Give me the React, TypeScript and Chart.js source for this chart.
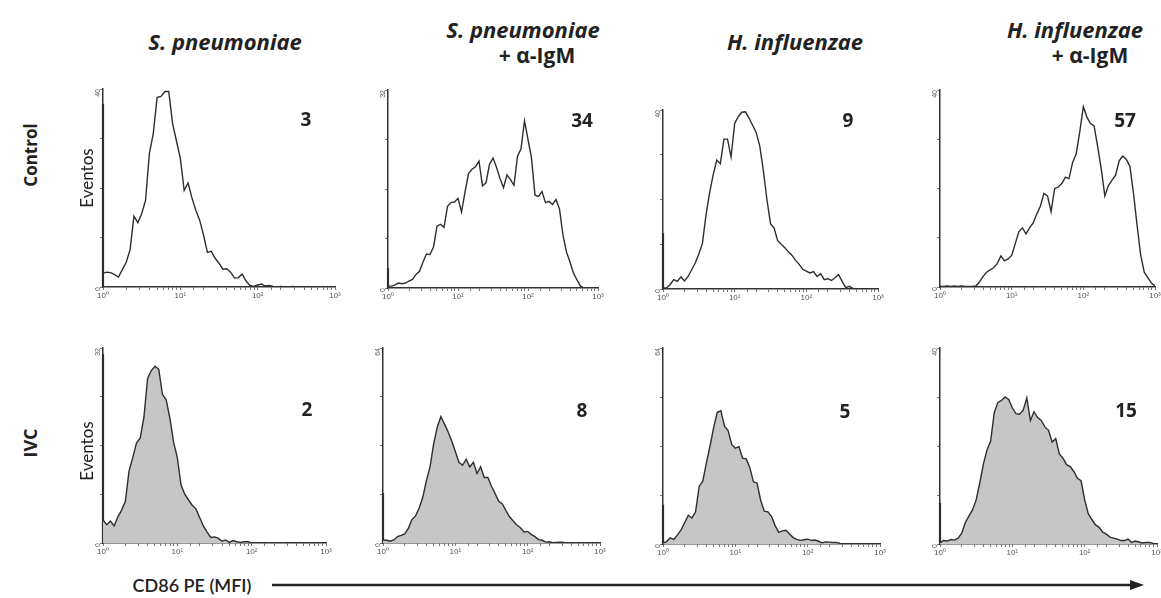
import React, { useEffect, useRef } from "react";
import { Chart, registerables } from "chart.js";

Chart.register(...registerables);

// Channel positions on the log axis (decade steps of 0.05 from 10^0 to 10^3)
const CHANNELS = Array.from({ length: 61 }, (_, i) => Math.pow(10, i * 0.05));

const COLUMN_TITLES = [
  ["S. pneumoniae"],
  ["S. pneumoniae", "+ α-IgM"],
  ["H. influenzae"],
  ["H. influenzae", "+ α-IgM"],
];
const ROW_LABELS = ["Control", "IVC"];
const Y_TITLE = "Eventos";
const X_TITLE = "CD86 PE (MFI)";
const X_TICK_LABELS: Record<number, string> = { 1: "10⁰", 10: "10¹", 100: "10²", 1000: "10³" };

const SP_CONTROL = [
  2.8, 3.0, 2.9, 2.5, 2.0, 3.5, 5.0, 7.5, 14.3, 13.0,
  14.8, 17.5, 27, 31, 38.3, 38.5, 39.5, 39.5, 33, 29.5,
  26, 19.5, 21, 18, 15.5, 13.5, 10.5, 7.0, 7.2, 5.8,
  4.8, 3.6, 3.7, 3.0, 1.8, 1.9, 2.6, 1.2, 0.3, 0.1,
  0.4, 0.6, 0.2, 0.3, 0.1, 0, 0.1, 0, 0, 0.1,
  0, 0, 0, 0, 0, 0, 0, 0, 0, 0, 0,
];
const SP_AIGM_CONTROL = [
  0.3, 0.3, 0.5, 0.8, 0.7, 0.8, 1.1, 1.4, 2.2, 2.7,
  4.2, 5.5, 5.4, 6.6, 10.0, 10.3, 9.8, 13.2, 13.8, 13.9,
  14.5, 12.3, 15.5, 18.5, 19.2, 19.6, 20.5, 16.5, 17.0, 20.0,
  21.0, 19.5, 17.7, 16.2, 18.3, 17.5, 16.6, 21.3, 22.5, 27.0,
  24.0, 21.0, 15.0, 14.8, 15.6, 13.8, 14.0, 13.5, 14.3, 12.8,
  8.5, 5.8, 4.2, 2.4, 1.3, 0.3, 0, 0, 0, 0, 0,
];
const HI_CONTROL = [
  0.3, 0.2, 1.0, 2.1, 1.7, 2.7, 1.8, 2.8, 4.3, 5.8,
  7.8, 10.2, 16.5, 21.5, 25.5, 28.8, 28.0, 33.5, 33.5, 29.5,
  37.0, 38.5, 39.5, 39.6, 38.2, 36.6, 35.0, 32.0, 26.5, 20.0,
  14.6, 13.6, 10.8, 10.0, 9.2, 8.3, 7.5, 6.4, 5.5, 4.4,
  4.0, 3.6, 3.9, 2.8, 3.4, 2.1, 2.3, 1.9, 2.5, 3.2,
  1.7, 0.3, 0.6, 0.1, 0, 0, 0, 0, 0, 0, 0,
];
const HI_AIGM_CONTROL = [
  0.1, 0.1, 0.2, 0.1, 0.2, 0.1, 0.2, 0.1, 0.1, 0.1,
  0.2, 1.0, 2.1, 3.0, 3.5, 3.9, 4.8, 6.3, 5.3, 5.7,
  6.4, 8.8, 11.2, 12.0, 10.8, 12.0, 13.0, 14.8, 16.4, 19.0,
  18.5, 15.3, 20.0, 20.3, 21.0, 22.3, 22.0, 25.3, 27.0, 31.5,
  36.6, 34.5, 33.2, 32.7, 28.5, 24.0, 18.5, 20.6, 21.7, 22.7,
  25.6, 26.6, 25.9, 24.5, 19.0, 12.5, 6.5, 3.0, 1.9, 0.8, 0.2,
];
const SP_IVC = [
  3.8, 3.0, 3.6, 2.8, 4.3, 5.4, 6.8, 11.8, 14.0, 16.4,
  17.2, 20.6, 27.0, 28.3, 29.0, 28.5, 24.4, 23.5, 20.5, 16.5,
  14.0, 9.5, 8.0, 7.1, 6.2, 5.6, 4.2, 2.8, 1.8, 0.9,
  1.0, 0.8, 0.3, 0.5, 0.1, 0.4, 0.2, 0.1, 0.2, 0.2,
  0, 0, 0, 0, 0, 0, 0, 0, 0, 0,
  0, 0, 0, 0, 0, 0, 0, 0, 0, 0, 0,
];
const SP_AIGM_IVC = [
  1.0, 0.9, 0.6, 1.0, 2.1, 2.5, 3.0, 4.8, 7.7, 8.9,
  11.5, 15.0, 20.5, 25.0, 32.5, 38.0, 41.5, 39.0, 36.5, 33.5,
  30.0, 26.5, 25.5, 27.5, 25.0, 26.5, 22.8, 25.0, 21.5, 21.5,
  18.6, 16.2, 13.7, 12.8, 10.6, 8.6, 7.2, 5.9, 5.0, 3.6,
  3.8, 2.8, 2.1, 1.1, 0.9, 0.3, 0.4, 0.1, 0.2, 0.3,
  0.2, 0, 0, 0, 0, 0, 0, 0, 0, 0, 0,
];
const HI_IVC = [
  0.3, 0.8, 2.0, 1.5, 3.0, 4.6, 7.0, 9.4, 8.5, 10.5,
  18.8, 20.5, 26.5, 32.0, 38.0, 43.0, 43.5, 38.5, 37.0, 32.5,
  31.3, 31.8, 28.0, 27.8, 25.0, 20.3, 19.9, 14.3, 10.7, 10.5,
  9.0, 6.0, 3.8, 4.3, 4.5, 3.3, 2.1, 1.5, 1.2, 1.4,
  1.6, 1.2, 1.3, 0.9, 0.4, 0.7, 0.6, 0.5, 0.5, 0.2,
  0, 0, 0, 0, 0, 0, 0, 0, 0, 0, 0,
];
const HI_AIGM_IVC = [
  0.3, 0.7, 0.6, 0.9, 0.8, 1.2, 2.2, 4.4, 5.7, 7.0,
  9.0, 12.5, 16.3, 19.2, 21.0, 26.8, 28.9, 29.3, 30.0, 29.5,
  27.8, 26.6, 26.5, 27.3, 29.8, 25.2, 27.0, 25.8, 25.2, 23.9,
  23.2, 20.8, 21.5, 18.4, 17.5, 16.2, 15.8, 14.8, 13.4, 12.9,
  9.0, 6.2, 5.0, 3.9, 3.4, 2.4, 2.0, 1.4, 1.2, 1.0,
  0.7, 0.7, 1.0, 0.3, 0.6, 0.4, 0.2, 0.3, 0.3, 0.1, 0,
];

const SERIES = [SP_CONTROL, SP_AIGM_CONTROL, HI_CONTROL, HI_AIGM_CONTROL, SP_IVC, SP_AIGM_IVC, HI_IVC, HI_AIGM_IVC];
const FIRST_CHANNEL_SPIKE = [37, 3.2, 12.5, 0, 31, 16.4, 12.8, 8.4];
const Y_MAX = [40, 32, 40, 40, 32, 64, 64, 40];
const MFI_VALUES = ["3", "34", "9", "57", "2", "8", "5", "15"];

// Layout (page pixels): plot area left/right/top/bottom
const PANEL_BOXES = [
  { l: 103, r: 335, t: 89, b: 287 },
  { l: 388, r: 598, t: 90, b: 288 },
  { l: 663, r: 878, t: 110, b: 289 },
  { l: 940, r: 1155, t: 90, b: 287 },
  { l: 103, r: 326, t: 348, b: 543 },
  { l: 383, r: 600, t: 348, b: 543 },
  { l: 663, r: 880, t: 348, b: 544 },
  { l: 940, r: 1157, t: 348, b: 544 },
];
const MFI_POS = [
  { x: 306, y: 119 }, { x: 582, y: 120 }, { x: 848, y: 120 }, { x: 1125, y: 120 },
  { x: 307, y: 409 }, { x: 582, y: 410 }, { x: 845, y: 411 }, { x: 1126, y: 410 },
];
const TITLE_POS = [
  [{ x: 225, y: 41 }],
  [{ x: 523, y: 29 }, { x: 537, y: 55 }],
  [{ x: 795, y: 41 }],
  [{ x: 1075, y: 29 }, { x: 1090, y: 55 }],
];

const Y_AXIS_W = 22;
const X_AXIS_H = 16;
const PAD_T = 10;
const PAD_R = 12;

const FONT = "Lato, 'Open Sans', sans-serif";
const TITLE_FONT = "'Open Sans', Lato, sans-serif";

function Panel({ idx }: { idx: number }) {
  const ref = useRef<HTMLCanvasElement | null>(null);
  const box = PANEL_BOXES[idx];
  const w = box.r - box.l + Y_AXIS_W + PAD_R;
  const h = box.b - box.t + PAD_T + X_AXIS_H;
  const filled = idx >= 4;

  useEffect(() => {
    const M = Y_MAX[idx];
    const values = SERIES[idx];
    const chart = new Chart(ref.current as HTMLCanvasElement, {
      type: "line",
      data: {
        datasets: [
          {
            data: CHANNELS.map((x, i) => ({ x, y: values[i] })),
            borderColor: "#2e2e2e",
            borderWidth: 1.4,
            backgroundColor: filled ? "#c6c6c6" : "rgba(0,0,0,0)",
            fill: filled ? "origin" : false,
            pointRadius: 0,
            tension: 0,
          },
          {
            data: [
              { x: CHANNELS[0], y: 0 },
              { x: CHANNELS[0], y: FIRST_CHANNEL_SPIKE[idx] },
            ],
            borderColor: "#2e2e2e",
            borderWidth: 2.2,
            pointRadius: 0,
            fill: false,
            clip: false as any,
          },
        ],
      },
      options: {
        responsive: false,
        animation: false,
        devicePixelRatio: 1,
        events: [],
        layout: { padding: { left: 0, right: PAD_R, top: PAD_T, bottom: 0 } },
        plugins: { legend: { display: false }, tooltip: { enabled: false } },
        scales: {
          x: {
            type: "logarithmic",
            min: 1,
            max: 1000,
            afterFit: (s: any) => {
              s.height = X_AXIS_H;
              s.paddingLeft = 0;
              s.paddingRight = 0;
            },
            ticks: {
              autoSkip: false,
              maxRotation: 0,
              minRotation: 0,
              padding: 1,
              color: "#555",
              font: { size: 8, family: "'Liberation Sans', sans-serif" },
              callback: (v: any) => {
                const n = Number(v);
                for (const k of [1, 10, 100, 1000]) {
                  if (Math.abs(n - k) < 1e-6 * k) return X_TICK_LABELS[k];
                }
                return "";
              },
            },
            grid: { display: true, drawOnChartArea: false, drawTicks: true, tickLength: 3, color: "#777" },
            border: { display: true, color: "#333", width: 1.5 },
          },
          y: {
            type: "linear",
            min: 0,
            max: M,
            afterFit: (s: any) => {
              s.width = Y_AXIS_W;
              s.paddingTop = 0;
              s.paddingBottom = 0;
            },
            ticks: {
              stepSize: M / 4,
              autoSkip: false,
              minRotation: 90,
              maxRotation: 90,
              padding: 2,
              color: "#555",
              font: { size: 7, family: "'Liberation Sans', sans-serif" },
              callback: (v: any) => (v === 0 || v === M ? String(v) : ""),
            },
            grid: { display: true, drawOnChartArea: false, drawTicks: true, tickLength: 3, color: "#777" },
            border: { display: true, color: "#333", width: 1.5 },
          },
        },
      },
    });
    return () => chart.destroy();
  }, [idx]);

  return (
    <div style={{ position: "absolute", left: box.l - Y_AXIS_W, top: box.t - PAD_T, width: w, height: h }}>
      <canvas ref={ref} width={w} height={h} style={{ display: "block" }} />
    </div>
  );
}

function Centered({ x, y, children, style }: any) {
  return (
    <div
      style={{
        position: "absolute",
        left: x,
        top: y,
        transform: "translate(-50%, -50%)",
        whiteSpace: "nowrap",
        fontFamily: FONT,
        color: "#222",
        lineHeight: 1,
        ...style,
      }}
    >
      {children}
    </div>
  );
}

export default function App() {
  return (
    <div
      style={{
        position: "absolute",
        left: 0,
        top: 0,
        width: 1161,
        height: 598,
        overflow: "hidden",
        background: "#fff",
      }}
    >
      {PANEL_BOXES.map((_, i) => (
        <Panel key={i} idx={i} />
      ))}

      {COLUMN_TITLES.map((lines, c) =>
        lines.map((t, j) => (
          <Centered
            key={`t${c}-${j}`}
            x={TITLE_POS[c][j].x}
            y={TITLE_POS[c][j].y}
            style={{
              fontFamily: TITLE_FONT,
              fontSize: j === 0 ? 22 : 21,
              fontWeight: 700,
              fontStyle: j === 0 ? "italic" : "normal",
            }}
          >
            {t}
          </Centered>
        ))
      )}

      {MFI_VALUES.map((v, i) => (
        <Centered key={`m${i}`} x={MFI_POS[i].x} y={MFI_POS[i].y} style={{ fontFamily: TITLE_FONT, fontSize: 19, fontWeight: 700 }}>
          {v}
        </Centered>
      ))}

      <Centered x={30} y={155} style={{ fontFamily: TITLE_FONT, fontSize: 17, fontWeight: 700, transform: "translate(-50%, -50%) rotate(-90deg)" }}>
        {ROW_LABELS[0]}
      </Centered>
      <Centered x={30} y={443} style={{ fontFamily: TITLE_FONT, fontSize: 18, fontWeight: 700, transform: "translate(-50%, -50%) rotate(-90deg)" }}>
        {ROW_LABELS[1]}
      </Centered>

      <Centered x={86} y={178} style={{ fontSize: 17, transform: "translate(-50%, -50%) rotate(-90deg)" }}>
        {Y_TITLE}
      </Centered>
      <Centered x={86} y={451} style={{ fontSize: 17, transform: "translate(-50%, -50%) rotate(-90deg)" }}>
        {Y_TITLE}
      </Centered>

      <Centered x={192} y={585} style={{ fontSize: 18, fontWeight: 600 }}>
        {X_TITLE}
      </Centered>
      <svg style={{ position: "absolute", left: 272, top: 578 }} width={872} height={14}>
        <line x1={0} y1={7} x2={860} y2={7} stroke="#222" strokeWidth={2.5} />
        <polygon points="858,2 872,7 858,12" fill="#222" />
      </svg>
    </div>
  );
}
